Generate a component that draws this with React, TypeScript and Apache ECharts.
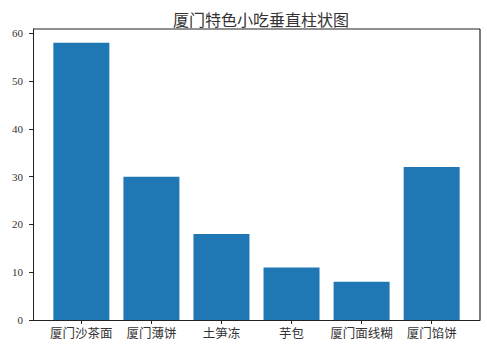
import React, { useEffect, useRef } from "react";
import * as echarts from "echarts";

const categories = ["厦门沙茶面", "厦门薄饼", "土笋冻", "芋包", "厦门面线糊", "厦门馅饼"];
const values = [58, 30, 18, 11, 8, 32];
const yTicks = [0, 10, 20, 30, 40, 50, 60];
const xTicks = [0, 1, 2, 3, 4, 5];
const title = "厦门特色小吃垂直柱状图";

const GL = 33, GR = 7, GT = 29, GB = 32, W = 487, H = 352;

export default function App() {
  const ref = useRef<HTMLDivElement>(null);
  useEffect(() => {
    if (!ref.current) return;
    const chart = echarts.init(ref.current, undefined, { renderer: "svg" });
    chart.setOption({
      animation: false,
      backgroundColor: "#ffffff",
      title: {
        text: title,
        left: 256,
        textAlign: "center",
        top: 6,
        textStyle: { fontSize: 16, fontWeight: "normal", color: "#333", fontFamily: "Noto Sans CJK SC" },
      },
      grid: { left: GL, right: GR, top: GT, bottom: GB },
      graphic: [
        {
          type: "line",
          z: 100,
          shape: { x1: W - GR, y1: GT, x2: W - GR, y2: H - GB },
          style: { stroke: "#222", lineWidth: 1.2 },
          silent: true,
        },
        {
          type: "line",
          z: 100,
          shape: { x1: GL, y1: GT, x2: W - GR, y2: GT },
          style: { stroke: "#222", lineWidth: 1 },
          silent: true,
        },
      ],
      xAxis: {
        type: "value",
        min: -0.69,
        max: 5.69,
        splitLine: { show: false },
        axisLine: { show: true, onZero: false, lineStyle: { color: "#222", width: 1 } },
        axisTick: { show: true, customValues: xTicks, length: 4, lineStyle: { color: "#222" } },
        axisLabel: {
          customValues: xTicks,
          formatter: (v: number) => categories[Math.round(v)] ?? "",
          fontSize: 12.5,
          color: "#333",
          margin: 6,
          fontFamily: "Noto Sans CJK SC",
        },
      },
      yAxis: {
        type: "value",
        min: 0,
        max: 60.9,
        splitLine: { show: false },
        axisLine: { show: true, onZero: false, lineStyle: { color: "#222", width: 1 } },
        axisTick: { show: true, customValues: yTicks, length: 4, lineStyle: { color: "#222" } },
        axisLabel: {
          customValues: yTicks,
          fontSize: 11,
          color: "#333",
          margin: 10,
          fontFamily: "Liberation Serif",
        },
      },
      series: [
        {
          type: "bar",
          data: values.map((v, i) => [i, v]),
          barWidth: 56,
          itemStyle: { color: "#1f77b4" },
        },
      ],
    });
    return () => chart.dispose();
  }, []);
  return <div ref={ref} style={{ position: "fixed", left: 0, top: 0, width: W, height: H }} />;
}
